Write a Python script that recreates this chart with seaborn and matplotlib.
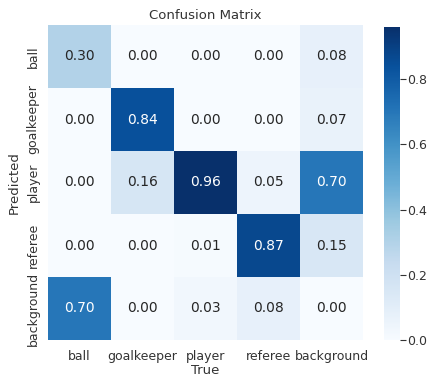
import numpy as np
import pandas as pd
import matplotlib
matplotlib.use("Agg")
import matplotlib.pyplot as plt
import seaborn as sns

classes = ["ball", "goalkeeper", "player", "referee", "background"]

# rows = predicted class, columns = true class
row_ball = [0.30, 0.00, 0.00, 0.00, 0.08]
row_goalkeeper = [0.00, 0.84, 0.00, 0.00, 0.07]
row_player = [0.00, 0.16, 0.96, 0.05, 0.70]
row_referee = [0.00, 0.00, 0.01, 0.87, 0.15]
row_background = [0.70, 0.00, 0.03, 0.08, 0.00]

cbar_ticks = [0.0, 0.2, 0.4, 0.6, 0.8]

matrix = pd.DataFrame(
    [row_ball, row_goalkeeper, row_player, row_referee, row_background],
    index=classes, columns=classes,
)

sns.set_theme(style="white", font_scale=1.0)
plt.rcParams["font.family"] = ["DejaVu Sans"]

W, H = 429, 379
fig = plt.figure(figsize=(W / 100, H / 100), dpi=100)
ax = fig.add_axes([48 / W, (H - 340) / H, 315 / W, 315 / H])
cax = fig.add_axes([384 / W, (H - 340) / H, 16 / W, 313 / H])

sns.heatmap(
    matrix, ax=ax, cbar_ax=cax, cmap="Blues", vmin=0.0, vmax=0.96,
    annot=True, fmt=".2f", annot_kws={"size": 10}, square=False,
    xticklabels=classes, yticklabels=classes,
    cbar_kws={"ticks": cbar_ticks},
)
ax.set_facecolor((1, 1, 1))
ax.set_title("Confusion Matrix", fontsize=9.5, color="#333333", pad=4)
ax.set_xlabel("True", fontsize=9.5, color="#333333", labelpad=1)
ax.set_ylabel("Predicted", fontsize=9.5, color="#333333", labelpad=4)
ax.tick_params(axis="x", length=0, labelsize=9, colors="#333333", pad=7)
ax.tick_params(axis="y", length=0, labelsize=9, colors="#333333", pad=6)
plt.setp(ax.get_yticklabels(), rotation=90, va="center")
plt.setp(ax.get_xticklabels(), rotation=0)

cax.tick_params(length=4, width=0.8, labelsize=9, colors="#333333", pad=1)
cax.set_yticklabels([f"{t:.1f}" for t in cbar_ticks])
for s in cax.spines.values():
    s.set_visible(False)

fig.savefig("out.png", dpi=100)
